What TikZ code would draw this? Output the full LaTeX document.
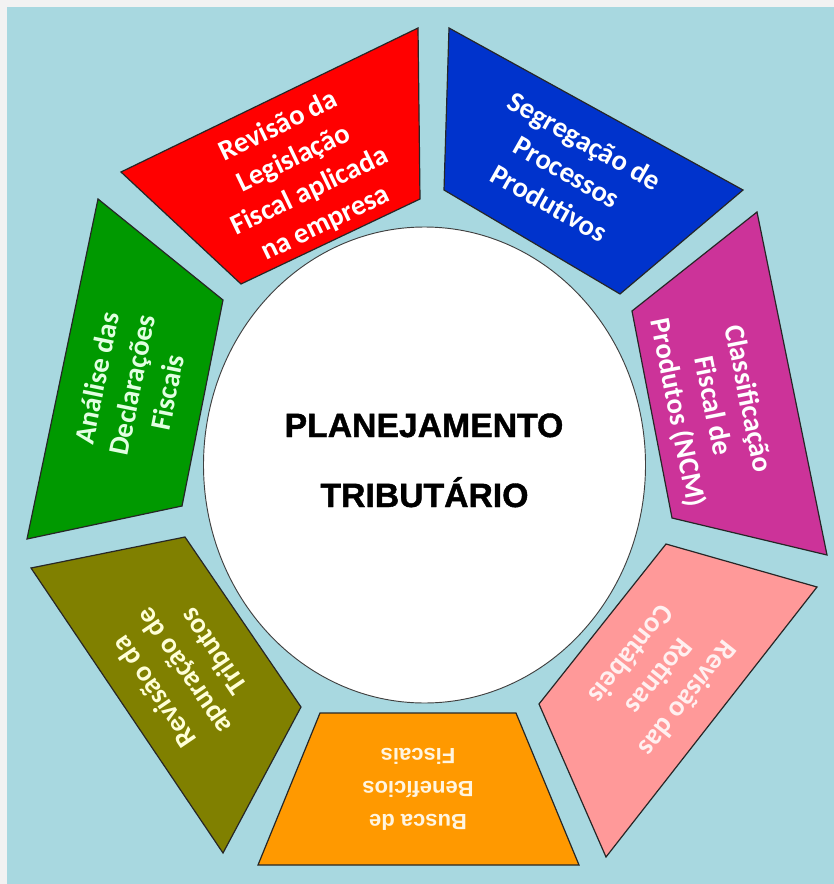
\documentclass[tikz,border=0pt]{standalone}
\usepackage{fontspec}
\setmainfont{Carlito}
\newfontfamily\arialfont{Liberation Sans}
\newfontfamily\heavyfont[FakeBold=1.2]{Liberation Sans Bold}
\definecolor{framegray}{RGB}{242,242,242}
\definecolor{bgblue}{RGB}{168,216,224}
\definecolor{segred}{RGB}{255,0,0}
\definecolor{segblue}{RGB}{0,51,204}
\definecolor{segmag}{RGB}{204,51,153}
\definecolor{segpink}{RGB}{255,153,153}
\definecolor{segorange}{RGB}{255,153,0}
\definecolor{segolive}{RGB}{128,128,0}
\definecolor{seggreen}{RGB}{0,153,0}
\definecolor{txtgreen}{RGB}{225,255,225}
\definecolor{txtolive}{RGB}{255,255,215}
\definecolor{txtorange}{RGB}{255,245,225}
\definecolor{txtpink}{RGB}{255,240,240}
\begin{document}
\begin{tikzpicture}[x=0.75pt,y=-0.75pt,
  seg/.style={draw=black!85, line width=0.9pt, line join=miter},
  segtext/.style={align=center, inner sep=0pt, text=white,
    font=\bfseries\fontsize{21.5}{27}\selectfont},
  orangetext/.style={align=center, inner sep=0pt, text=txtorange,
    font=\arialfont\bfseries\fontsize{16.5}{24.75}\selectfont},
  centertext/.style={anchor=base, inner sep=0pt,
    font=\heavyfont\fontsize{25.3}{30}\selectfont}]
\useasboundingbox (0,0) rectangle (834,884);
\fill[framegray] (0,0) rectangle (834,884);
\fill[bgblue] (7,7) rectangle (834,884);

% central ellipse
\draw[draw=black!75, line width=0.7pt, fill=white] (424.5,465) ellipse [x radius=221, y radius=238];

% segments
\draw[seg, fill=segred]    (418,28) -- (420,199) -- (241,284) -- (121,172) -- cycle;
\draw[seg, fill=segblue]   (449,28) -- (743,190) -- (620,294) -- (444,190) -- cycle;
\draw[seg, fill=segmag]    (757,212) -- (827,555) -- (672,518) -- (632,311) -- cycle;
\draw[seg, fill=segpink]   (666,544) -- (817,587) -- (606,857) -- (539,704) -- cycle;
\draw[seg, fill=segorange] (320,713) -- (516,713) -- (579,865) -- (258,865) -- cycle;
\draw[seg, fill=segolive]  (31,568) -- (185,537) -- (301,707) -- (223,853) -- cycle;
\draw[seg, fill=seggreen]  (98,199) -- (223,300) -- (182,506) -- (27,539) -- cycle;

% texts
\node[segtext, rotate=25.7] (tred) at (302,175) {Revisão da\\Legislação\\Fiscal aplicada\\na empresa};
\node[segtext, rotate=-29.5] (tblue) at (567,172) {Segregação de\\Processos\\Produtivos};
\node[segtext, rotate=-78.7] (tmag) at (712,406) {Classificação\\Fiscal de\\Produtos (NCM)};
\node[segtext, text=txtpink, rotate=-128.4] (tpink) at (660,677) {Revisão das\\Rotinas\\Contábeis};
\node[orangetext, rotate=180] (torange) at (418,789) {Busca de\\Benefícios\\Fiscais};
\node[segtext, text=txtolive, rotate=124.2] (tolive) at (183,672) {Revisão da\\apuração de\\Tributos};
\node[segtext, text=txtgreen, rotate=78.5] (tgreen) at (132,385) {Análise das\\Declarações\\Fiscais};

\node[centertext] (plan) at (424,437) {PLANEJAMENTO};
\node[centertext] (trib) at (424.5,507) {TRIBUTÁRIO};
\end{tikzpicture}
\end{document}
